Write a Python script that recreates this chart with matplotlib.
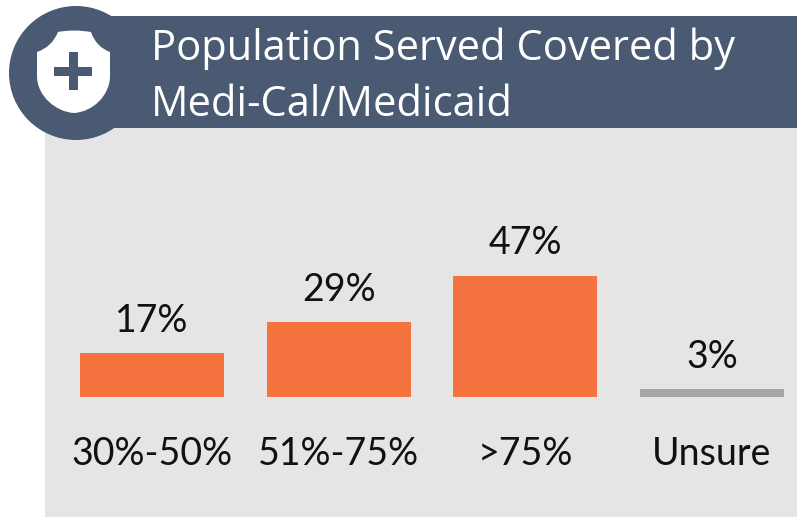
import matplotlib
matplotlib.use("Agg")
import matplotlib.pyplot as plt
from matplotlib.patches import Circle, PathPatch, Rectangle
from matplotlib.path import Path

categories = ["30%-50%", "51%-75%", ">75%", "Unsure"]
values = [17, 29, 47, 3]
bar_labels = ["17%", "29%", "47%", "3%"]
title_lines = ["Population Served Covered by", "Medi-Cal/Medicaid"]

navy = "#4A5A72"
panel = "#E5E5E5"
orange = "#F4733F"
grey = "#A5A5A5"

W, H = 797, 517
fig = plt.figure(figsize=(W / 100, H / 100), dpi=100)

# фон и шапка в пикселях
bg = fig.add_axes([0, 0, 1, 1])
bg.set_xlim(0, W)
bg.set_ylim(H, 0)
bg.axis("off")
bg.add_patch(Rectangle((45, 128), W - 45, H - 128, color=panel, lw=0))
bg.add_patch(Rectangle((76, 16), W - 76, 112, color=navy, lw=0))
bg.add_patch(Circle((76, 73), 67, color=navy, lw=0))

# щит
codes = [Path.MOVETO, Path.CURVE3, Path.CURVE3, Path.CURVE3, Path.CURVE3,
         Path.LINETO, Path.CURVE4, Path.CURVE4, Path.CURVE4,
         Path.CURVE4, Path.CURVE4, Path.CURVE4, Path.LINETO,
         Path.CURVE3, Path.CURVE3, Path.CLOSEPOLY]
verts = [(58, 32), (73, 29), (91, 32), (96, 47), (110, 52),
         (110, 76), (110, 96), (92, 112), (74, 113),
         (56, 112), (37, 96), (37, 76), (37, 52),
         (52, 47), (58, 32), (58, 32)]
bg.add_patch(PathPatch(Path(verts, codes), facecolor="white", lw=0))
bg.add_patch(Rectangle((54, 67), 38, 9, color=navy, lw=0))
bg.add_patch(Rectangle((69, 52), 9, 38, color=navy, lw=0))

for line, y in zip(title_lines, [49, 105]):
    bg.text(151, y, line, color="white", fontsize=30, family="Open Sans",
            ha="left", va="center")

# столбцы
ax = fig.add_axes([45 / W, (H - 397) / H, (W - 45) / W, 269 / H])
ax.patch.set_alpha(0)
ax.set_xlim(-0.573, 3.455)
ax.set_ylim(0, 269 / 2.58)
colors = [orange, orange, orange, grey]
ax.bar(range(len(values)), values, width=0.771, color=colors)
for i, (v, lab) in enumerate(zip(values, bar_labels)):
    ax.annotate(lab, (i, v), xytext=(0, 10.5), textcoords="offset points",
                ha="center", va="bottom", fontsize=27, family="Lato", color="#111111")
ax.set_xticks(range(len(categories)))
ax.set_xticklabels(categories, fontsize=27, family="Lato", color="#111111")
ax.tick_params(axis="x", length=0, pad=28)
ax.set_yticks([])
for s in ax.spines.values():
    s.set_visible(False)

plt.savefig("out.png", dpi=100)
